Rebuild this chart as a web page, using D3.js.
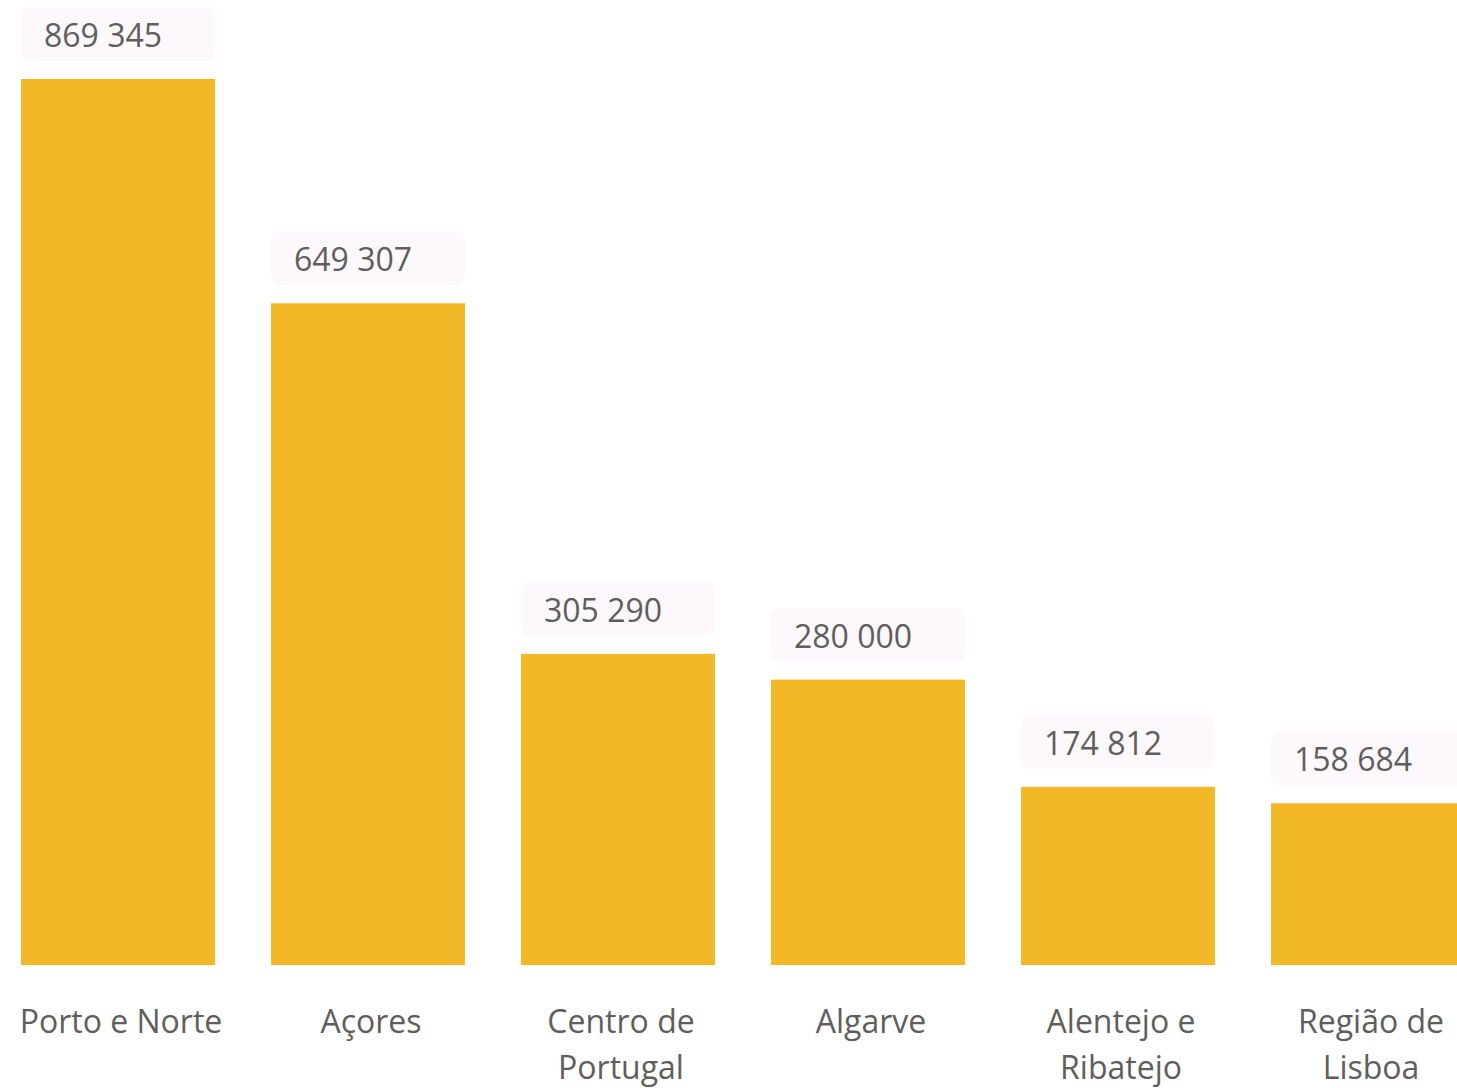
<!DOCTYPE html>
<html>
<head>
<meta charset="utf-8">
<script src="https://cdn.jsdelivr.net/npm/d3@7"></script>
<style>
  body { margin: 0; background: #fff; }
  svg { display: block; }
</style>
</head>
<body>
<div class="canvas"></div>
<script>
const categories = ["Porto e Norte", "Açores", "Centro de Portugal", "Algarve", "Alentejo e Ribatejo", "Região de Lisboa"];
const values = [869345, 649307, 305290, 280000, 174812, 158684];

const width = 1457;
const height = 1088;
const font = "'Open Sans', 'Noto Sans', sans-serif";

const svg = d3.select(".canvas")
  .append("svg")
  .attr("width", width)
  .attr("height", height);

const x = d3.scaleBand()
  .domain(categories)
  .range([-7, 1493])
  .paddingInner(0.224)
  .paddingOuter(0.112);

const y = d3.scaleLinear()
  .domain([0, d3.max(values)])
  .range([965, 79]);

const data = categories.map((c, i) => ({ name: c, value: values[i] }));

// bars
svg.append("g").selectAll("rect")
  .data(data)
  .enter()
  .append("rect")
  .attr("x", d => x(d.name))
  .attr("y", d => y(d.value))
  .attr("width", x.bandwidth())
  .attr("height", d => y(0) - y(d.value))
  .attr("fill", "#F3B828");

// value labels with soft background
const fmt = v => d3.format(",")(v).replace(/,/g, " ");
const labels = svg.append("g").selectAll("g")
  .data(data)
  .enter()
  .append("g")
  .attr("transform", d => `translate(${x(d.name)},${y(d.value) - 72})`);

labels.append("rect")
  .attr("width", x.bandwidth())
  .attr("height", 54)
  .attr("rx", 9)
  .attr("fill", "#FDF8FC");

labels.append("text")
  .attr("x", 23)
  .attr("y", 40)
  .attr("font-family", font)
  .attr("font-size", 32)
  .attr("fill", "#605E5C")
  .text(d => fmt(d.value));

// x axis labels
const xAxis = d3.axisBottom(x).tickSize(0).tickPadding(0);
const axisG = svg.append("g")
  .attr("transform", "translate(3,1000)")
  .call(xAxis);
axisG.select(".domain").remove();
axisG.selectAll("text")
  .attr("font-family", font)
  .attr("font-size", 32)
  .attr("fill", "#605E5C")
  .attr("dy", 0)
  .attr("y", 33)
  .call(wrap, 240);

function wrap(texts, maxW) {
  texts.each(function () {
    const t = d3.select(this);
    const words = t.text().split(/\s+/);
    t.text(null);
    let line = [];
    let tspan = t.append("tspan").attr("x", 0).attr("dy", 0);
    words.forEach(w => {
      line.push(w);
      tspan.text(line.join(" "));
      if (tspan.node().getComputedTextLength() > maxW && line.length > 1) {
        line.pop();
        tspan.text(line.join(" "));
        line = [w];
        tspan = t.append("tspan").attr("x", 0).attr("dy", 46).text(w);
      }
    });
  });
}
</script>
</body>
</html>
